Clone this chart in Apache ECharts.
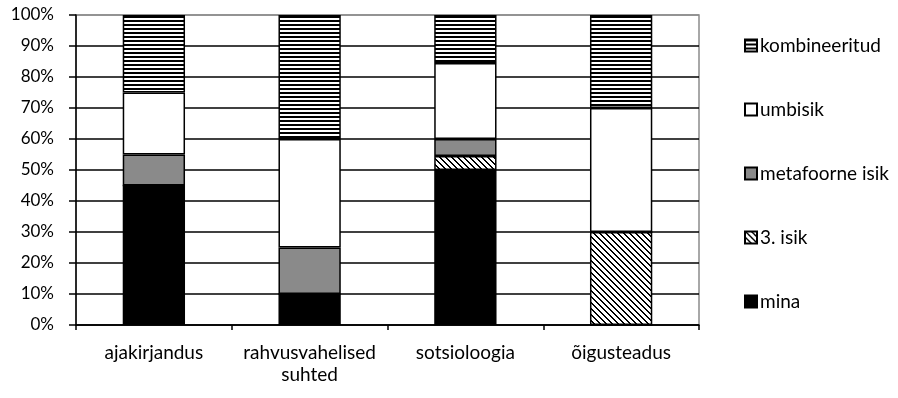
<!DOCTYPE html>
<html><head><meta charset="utf-8">
<script src="https://cdn.jsdelivr.net/npm/echarts@6/dist/echarts.min.js"></script>
<style>html,body{margin:0;padding:0;background:#fff}#c{width:898px;height:398px}</style>
</head><body><div id="c"></div>
<script>
const categories = ['ajakirjandus', 'rahvusvahelised\nsuhted', 'sotsioloogia', 'õigusteadus'];
const seriesNames = ['mina', '3. isik', 'metafoorne isik', 'umbisik', 'kombineeritud'];
const mina = [45, 10, 50, 0];
const isik3 = [0, 0, 4.5, 30];
const metafoorne = [10, 15, 5.5, 0];
const umbisik = [20, 35, 24.5, 40];
const kombineeritud = [25, 40, 15.5, 30];
const yTicks = [0, 10, 20, 30, 40, 50, 60, 70, 80, 90, 100];

function stripeCanvas() {
  const c = document.createElement('canvas'); c.width = 4; c.height = 4;
  const g = c.getContext('2d');
  g.fillStyle = '#fff'; g.fillRect(0, 0, 4, 4);
  g.fillStyle = '#000'; g.fillRect(0, 0, 4, 2);
  return c;
}
function hatchCanvas() {
  const n = 6;
  const c = document.createElement('canvas'); c.width = n; c.height = n;
  const g = c.getContext('2d');
  const img = g.createImageData(n, n);
  for (let y = 0; y < n; y++) for (let x = 0; x < n; x++) {
    const on = ((x - y + n * 2) % n) < 2;
    const v = on ? 0 : 255, i = (y * n + x) * 4;
    img.data[i] = v; img.data[i + 1] = v; img.data[i + 2] = v; img.data[i + 3] = 255;
  }
  g.putImageData(img, 0, 0);
  return c;
}
const stripe = { image: stripeCanvas(), repeat: 'repeat' };
const hatch = { image: hatchCanvas(), repeat: 'repeat' };
const fills = ['#000000', hatch, '#8a8a8a', '#ffffff', stripe];
const values = [mina, isik3, metafoorne, umbisik, kombineeritud];

const FONT = 'Lato';
const FS = 19;
const chart = echarts.init(document.getElementById('c'), null, { renderer: 'canvas' });
const splitColors = yTicks.map((t, i) => i === yTicks.length - 1 ? '#8c8c8c' : '#000');
chart.setOption({
  animation: false,
  backgroundColor: '#fff',
  textStyle: { fontFamily: FONT },
  grid: { left: 76, right: 199, top: 15, bottom: 73, show: true, borderColor: '#8c8c8c', borderWidth: 1.5, backgroundColor: '#fff' },
  legend: {
    orient: 'vertical', left: 739, top: 31,
    data: seriesNames.slice().reverse(),
    itemWidth: 12, itemHeight: 12, itemGap: 45, selectedMode: false,
    textStyle: { fontFamily: FONT, fontSize: FS, color: '#000', padding: [0, 0, 0, -2] },
    icon: 'rect'
  },
  xAxis: {
    type: 'category', data: categories,
    axisLine: { lineStyle: { color: '#000', width: 1.5 } },
    axisTick: { show: true, interval: 0, length: 5, lineStyle: { color: '#000', width: 1.5 } },
    axisLabel: { interval: 0, fontFamily: FONT, fontSize: FS, color: '#000', margin: 17, lineHeight: 22 }
  },
  yAxis: {
    type: 'value', min: 0, max: 100, interval: 10,
    axisLine: { show: true, lineStyle: { color: '#000', width: 1.5 } },
    axisTick: { show: true, length: 7, lineStyle: { color: '#000', width: 1.5 } },
    axisLabel: { formatter: v => v + '%', fontFamily: FONT, fontSize: 17, color: '#000', margin: 22 },
    splitLine: { show: true, lineStyle: { color: splitColors, width: 1.5 } }
  },
  series: seriesNames.map((name, i) => ({
    name, type: 'bar', stack: 'total', barWidth: '40%',
    data: values[i],
    itemStyle: { color: fills[i], borderColor: '#000', borderWidth: 1.5 }
  }))
});
</script></body></html>
